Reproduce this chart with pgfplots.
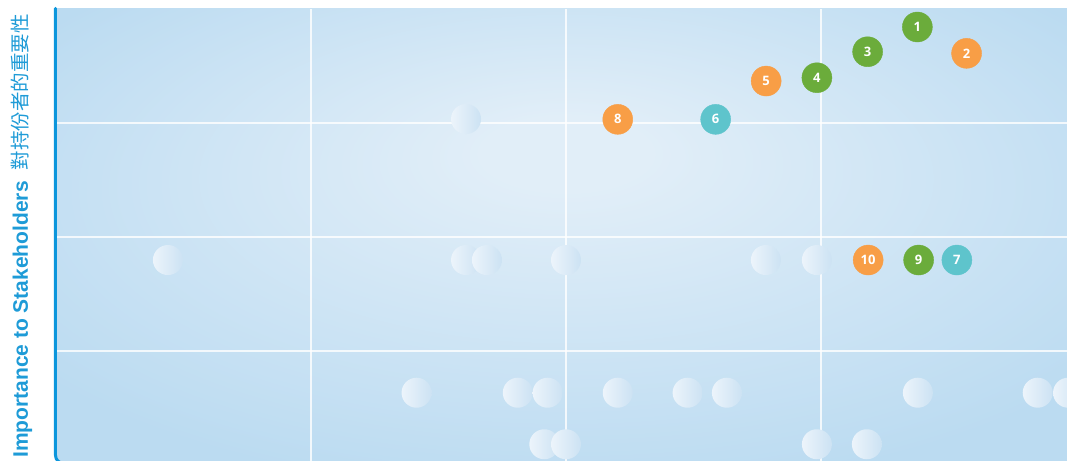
\documentclass[border=0pt]{standalone}
\usepackage{fontspec}
\setmainfont{Liberation Sans}[BoldFont={Liberation Sans Bold}]
\newfontfamily\numfont{Open Sans Bold}
\newfontfamily\cjk{Noto Sans CJK TC}
\usepackage{pgfplots}
\pgfplotsset{compat=1.18}
\definecolor{mgreen}{RGB}{107,172,59}
\definecolor{morange}{RGB}{248,158,70}
\definecolor{mteal}{RGB}{94,196,204}
\definecolor{lblue}{RGB}{30,155,215}
\definecolor{axblue}{RGB}{12,150,220}
\definecolor{bgin}{RGB}{225,238,248}
\definecolor{bgout}{RGB}{187,219,241}
\definecolor{bubL}{RGB}{236,244,251}
\definecolor{bubR}{RGB}{204,226,243}
\pgfdeclareradialshading{bgshade}{\pgfpoint{0bp}{10bp}}{color(0bp)=(bgin); color(4bp)=(bgin); color(32bp)=(bgout); color(50bp)=(bgout)}
\pgfdeclarehorizontalshading{bubshade}{100bp}{color(0bp)=(bubL); color(25bp)=(bubL); color(75bp)=(bubR); color(100bp)=(bubR)}
\pgfdeclareplotmark{bubble}{\pgfpathcircle{\pgfpointorigin}{\pgfplotmarksize}\pgfshadepath{bubshade}{0}\pgfusepath{}}
\pgfplotsset{bubbleopts/.style={only marks, mark=*, mark size=15pt, color=#1,
  mark options={fill=#1, draw=#1},
  nodes near coords, point meta=explicit symbolic,
  every node near coord/.style={anchor=center, inner sep=0pt, text=white,
    font=\numfont\fontsize{13}{13}\selectfont}}}
\begin{document}
\begin{tikzpicture}
\begin{axis}[
  at={(0,0)}, anchor=south west,
  scale only axis, width=1020pt, height=456pt,
  xmin=0, xmax=4, ymin=0, ymax=4,
  xtick=\empty, ytick=\empty,
  axis line style={draw=none},
  clip=false,
  axis background/.style={shade, shading=bgshade},
]
% faded (non-material) topics
\addplot[only marks, mark=bubble, mark size=15pt] table {
x y
0.439 1.798
1.608 3.035
1.608 1.798
1.690 1.798
2.000 1.798
2.784 1.798
2.984 1.798
1.414 0.634
1.811 0.634
1.928 0.634
2.203 0.634
2.477 0.634
2.631 0.634
3.380 0.634
3.850 0.634
3.969 0.634
1.915 0.182
2.000 0.182
2.984 0.182
3.180 0.182
};
% grid
\draw[white, opacity=0.8, line width=2pt] (axis cs:1,0) -- (axis cs:1,4);
\draw[white, opacity=0.8, line width=2pt] (axis cs:2,0) -- (axis cs:2,4);
\draw[white, opacity=0.8, line width=2pt] (axis cs:3,0) -- (axis cs:3,4);
\draw[white, opacity=0.8, line width=2pt] (axis cs:0,1) -- (axis cs:4,1);
\draw[white, opacity=0.8, line width=2pt] (axis cs:0,2) -- (axis cs:4,2);
\draw[white, opacity=0.8, line width=2pt] (axis cs:0,3) -- (axis cs:4,3);
% axis line
\draw[axblue, line width=3pt, rounded corners=8pt, line cap=round] (axis cs:-0.002,4.005) -- (axis cs:-0.002,0.015) -- (axis cs:1,0.015);
\addplot[bubbleopts=mgreen] table[meta=label] {
x y label
3.378 3.842 1
3.183 3.625 3
2.984 3.397 4
3.383 1.798 9
};
\addplot[bubbleopts=morange] table[meta=label] {
x y label
3.571 3.611 2
2.785 3.368 5
2.203 3.032 8
3.185 1.798 10
};
\addplot[bubbleopts=mteal] table[meta=label] {
x y label
2.587 3.032 6
3.533 1.798 7
};
\end{axis}
\node[rotate=90, anchor=base west, text=lblue, inner sep=0pt] at (-28pt,7pt)
  {\fontsize{21}{21}\selectfont\bfseries Importance to Stakeholders\hspace{11pt}{\cjk\mdseries\fontsize{19.5}{19.5}\selectfont 對持份者的重要性}};
\pgfresetboundingbox
\useasboundingbox (-56pt,5pt) rectangle (1011pt,465pt);
\end{tikzpicture}
\end{document}
